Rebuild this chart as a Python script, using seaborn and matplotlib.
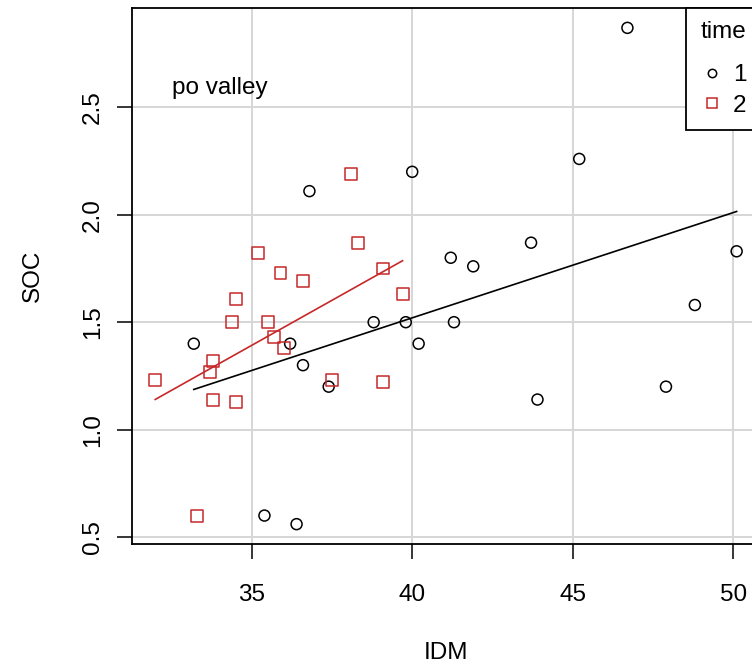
import numpy as np
import pandas as pd
import matplotlib
matplotlib.use("Agg")
import matplotlib.pyplot as plt
import seaborn as sns
from matplotlib.lines import Line2D

# values (IDM vs SOC, two sampling times)
time1_idm = [33.2, 36.8, 40.0, 46.7, 45.2, 43.7, 41.2, 41.9, 50.1, 48.8, 47.9,
             43.9, 41.3, 40.2, 39.8, 38.8, 36.2, 36.6, 37.4, 35.4, 36.4]
time1_soc = [1.40, 2.11, 2.20, 2.87, 2.26, 1.87, 1.80, 1.76, 1.83, 1.58, 1.20,
             1.14, 1.50, 1.40, 1.50, 1.50, 1.40, 1.30, 1.20, 0.60, 0.56]

time2_idm = [38.1, 38.3, 35.2, 35.9, 36.6, 39.1, 39.7, 34.5, 34.4, 35.5,
             35.7, 36.0, 33.8, 33.7, 32.0, 37.5, 39.1, 33.8, 34.5, 33.3]
time2_soc = [2.19, 1.87, 1.82, 1.73, 1.69, 1.75, 1.63, 1.61, 1.50, 1.50,
             1.43, 1.38, 1.32, 1.27, 1.23, 1.23, 1.22, 1.14, 1.13, 0.60]

x_ticks = [35, 40, 45, 50]
y_ticks = [0.5, 1.0, 1.5, 2.0, 2.5]

df = pd.concat([
    pd.DataFrame({"IDM": time1_idm, "SOC": time1_soc, "time": "1"}),
    pd.DataFrame({"IDM": time2_idm, "SOC": time2_soc, "time": "2"}),
], ignore_index=True)

RED = "#C62828"
colors = {"1": "black", "2": RED}
markers = {"1": "o", "2": "s"}
FS = 17.5

plt.rcParams["font.family"] = ["Liberation Sans", "DejaVu Sans"]
plt.rcParams["font.size"] = FS

fig = plt.figure(figsize=(7.52, 6.67), dpi=100)
ax = fig.add_axes([0.1755, 0.1844, 0.835, 0.8036])

# grid first, under everything
for v in x_ticks:
    ax.axvline(v, color="#D6D6D6", lw=1.4, zorder=0)
for v in y_ticks:
    ax.axhline(v, color="#D6D6D6", lw=1.4, zorder=0)

for t in ["1", "2"]:
    sub = df[df["time"] == t]
    size = 7.9 if t == "1" else 8.6
    sns.scatterplot(data=sub, x="IDM", y="SOC", marker=markers[t], s=size ** 2,
                    facecolor="none", edgecolor=colors[t], linewidth=1.1,
                    ax=ax, zorder=3)
    sns.regplot(data=sub, x="IDM", y="SOC", scatter=False, ci=None, truncate=True,
                color=colors[t], line_kws={"lw": 1.2}, ax=ax)

# R style axis limits: data range plus 4%
xr = df["IDM"].max() - df["IDM"].min()
yr = df["SOC"].max() - df["SOC"].min()
ax.set_xlim(df["IDM"].min() - 0.04 * xr, df["IDM"].max() + 0.04 * xr)
ax.set_ylim(df["SOC"].min() - 0.04 * yr, df["SOC"].max() + 0.04 * yr)

ax.set_xticks(x_ticks)
ax.set_xticklabels([str(v) for v in x_ticks])
ax.set_yticks(y_ticks)
ax.set_yticklabels([f"{v:.1f}" for v in y_ticks], rotation=90, va="center")
ax.tick_params(axis="both", length=11, width=1.1, color="black")
ax.tick_params(axis="x", pad=17.5)
ax.tick_params(axis="y", pad=9)

for s in ax.spines.values():
    s.set_linewidth(1.3)
    s.set_color("black")

ax.set_xlabel("IDM", labelpad=26.5)
ax.set_ylabel("SOC", labelpad=27.5)

ax.text(34.0, 2.59, "po valley", ha="center", va="center")

handles = [
    Line2D([], [], marker="o", ls="none", mfc="none", mec="black", ms=6, mew=1.1, label="1"),
    Line2D([], [], marker="s", ls="none", mfc="none", mec=RED, ms=7, mew=1.1, label="2"),
]
leg = ax.legend(handles=handles, title="time", loc="upper right", bbox_to_anchor=(1, 1),
                borderaxespad=0, fancybox=False, framealpha=1, edgecolor="black",
                handlelength=1.0, handletextpad=0.38, labelspacing=0.36,
                borderpad=0.55, fontsize=FS, title_fontsize=FS)
leg.get_frame().set_linewidth(1.3)
# R puts a wider gap under the legend title
leg._legend_box.sep = 0.85 * FS

fig.savefig("out.png", dpi=100)
